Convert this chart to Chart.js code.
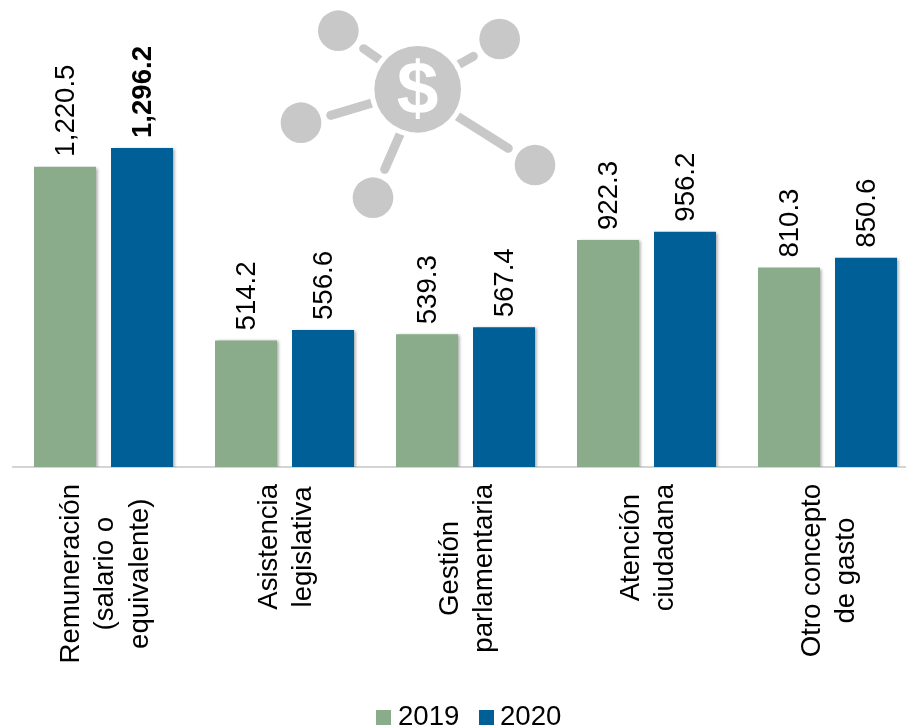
<!DOCTYPE html>
<html><head><meta charset="utf-8">
<script src="https://cdn.jsdelivr.net/npm/chart.js@4/dist/chart.umd.min.js"></script>
<style>
html,body{margin:0;padding:0;background:#fff;width:906px;height:728px;overflow:hidden}
#wrap{position:relative;width:906px;height:728px;overflow:hidden}
canvas{position:absolute;left:0;top:0}
svg{position:absolute;left:270px;top:0}
</style></head><body>
<div id="wrap">
<canvas id="c" width="938" height="728" style="width:938px;height:728px"></canvas>
<svg width="300" height="230" viewBox="0 0 900 690" aria-hidden="true">
  <g fill="#c8c8c8">
    <circle cx="205" cy="92" r="61"/><circle cx="689" cy="117" r="61"/><circle cx="93" cy="368" r="61"/>
    <circle cx="795" cy="495" r="61"/><circle cx="309" cy="593" r="61"/>
  </g>
  <g stroke="#c8c8c8" stroke-width="27" stroke-linecap="round">
    <line x1="281" y1="146" x2="340" y2="187"/><line x1="610" y1="169" x2="550" y2="203"/>
    <line x1="182" y1="346" x2="320" y2="305"/><line x1="715" y1="445" x2="540" y2="335"/>
    <line x1="344" y1="508" x2="400" y2="380"/>
  </g>
  <circle cx="443" cy="268" r="145" fill="#fff"/>
  <circle cx="443" cy="268" r="130" fill="#c8c8c8"/>
  <text x="443" y="340" text-anchor="middle" font-family="Liberation Sans" font-weight="700" font-size="225" fill="#fff">$</text>
</svg>
</div>
<script>
const categories = [
  ["Remuneración","(salario o","equivalente)"],
  ["Asistencia","legislativa"],
  ["Gestión","parlamentaria"],
  ["Atención","ciudadana"],
  ["Otro concepto","de gasto"]
];
const seriesNames = ["2019","2020"];
const values2019 = [1220.5,514.2,539.3,922.3,810.3];
const values2020 = [1296.2,556.6,567.4,956.2,850.6];
const colors = ["#8AAC8A","#005F96"];
const FONT = '"Liberation Sans", Arial, sans-serif';
const SIZE = 27.6;

const shadowPlugin = {
  id:'barShadow',
  beforeDatasetDraw(chart){
    const c=chart.ctx; c.save();
    c.shadowColor='rgba(0,0,0,0.35)'; c.shadowBlur=3; c.shadowOffsetX=2; c.shadowOffsetY=1;
  },
  afterDatasetDraw(chart){ chart.ctx.restore(); }
};
const labelPlugin = {
  id:'texts',
  afterDraw(chart){
    const c=chart.ctx, xs=chart.scales.x;
    c.save();
    c.fillStyle='#000';
    // value labels
    chart.data.datasets.forEach((ds,di)=>{
      chart.getDatasetMeta(di).data.forEach((bar,i)=>{
        const v=ds.data[i];
        const bold=v===Math.max(...ds.data)&&di===1;
        c.save();
        c.translate(bar.x,bar.y-10);
        c.rotate(-Math.PI/2);
        c.font=(bold?'bold ':'')+SIZE+'px '+FONT;
        c.textAlign='left'; c.textBaseline='middle';
        c.fillText(v.toLocaleString('en-US',{minimumFractionDigits:1,maximumFractionDigits:1}),0,1);
        c.restore();
      });
    });
    // category labels
    c.font=SIZE+'px '+FONT;
    chart.data.labels.forEach((lines,i)=>{
      const cx=xs.getPixelForValue(i);
      const w=Math.max(...lines.map(l=>c.measureText(l).width));
      const cy=484+w/2;
      lines.forEach((l,k)=>{
        c.save();
        c.translate(cx+(k-(lines.length-1)/2)*34.5,cy);
        c.rotate(-Math.PI/2);
        c.textAlign='center'; c.textBaseline='middle';
        c.fillText(l,0,2);
        c.restore();
      });
    });
    // legend
    const items=[[376,398],[479,500]];
    c.font=SIZE+'px '+FONT;
    chart.data.datasets.forEach((ds,di)=>{
      c.fillStyle=ds.backgroundColor;
      c.fillRect(items[di][0],710,15,15);
      c.fillStyle='#000';
      c.textAlign='left'; c.textBaseline='alphabetic';
      c.fillText(ds.label,items[di][1],725);
    });
    c.restore();
  }
};
new Chart(document.getElementById('c'),{
  type:'bar',
  data:{labels:categories,datasets:[
    {label:seriesNames[0],data:values2019,backgroundColor:colors[0]},
    {label:seriesNames[1],data:values2020,backgroundColor:colors[1]}
  ]},
  options:{
    responsive:false,animation:false,
    layout:{padding:{left:13,right:20,top:0,bottom:253}},
    datasets:{bar:{categoryPercentage:0.851,barPercentage:0.805}},
    plugins:{legend:{display:false},tooltip:{enabled:false}},
    scales:{
      x:{grid:{display:false},border:{color:'#d4d4d4',width:2},ticks:{display:false}},
      y:{display:false,min:0,max:1897.6}
    }
  },
  plugins:[shadowPlugin,labelPlugin]
});
</script>
</body></html>
